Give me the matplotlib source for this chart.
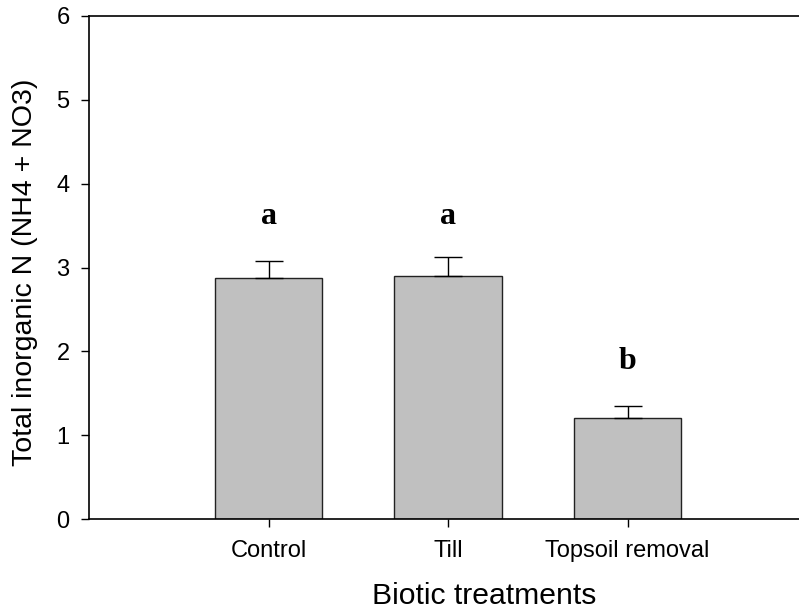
import matplotlib
matplotlib.use("Agg")
import matplotlib.pyplot as plt

categories = ["Control", "Till", "Topsoil removal"]
means = [2.88, 2.90, 1.21]
errors = [0.20, 0.23, 0.14]
letters = ["a", "a", "b"]
letter_y = [3.61, 3.61, 1.88]

plt.rcParams['font.family'] = ['Liberation Sans', 'DejaVu Sans']

fig = plt.figure(figsize=(7.99, 6.16), dpi=100)
ax = fig.add_axes([89/799, 97/616, 718/799, 503/616])

pos = [1, 2, 3]
ax.bar(pos, means, width=0.6, color="#c0c0c0", edgecolor="#222222", linewidth=1.0, zorder=2)
ax.errorbar(pos, means, yerr=[[0, 0, 0], errors], fmt="none", ecolor="black",
            elinewidth=1.0, capsize=10, capthick=1.0, zorder=3)
for x, t, y in zip(pos, letters, letter_y):
    ax.text(x, y, t, ha="center", va="center", fontsize=23, fontweight="bold",
            family=["Liberation Serif", "DejaVu Serif"])

ax.set_xlim(0, 4)
ax.set_ylim(0, 6)
ax.set_xticks(pos)
ax.set_xticklabels(categories)
ax.set_yticks(range(0, 7))
ax.tick_params(axis="both", direction="out", length=6, width=1.0, labelsize=17, pad=8)
ax.tick_params(axis="x", pad=9)
for s in ["left", "bottom", "top"]:
    ax.spines[s].set_linewidth(1.2)
ax.spines["right"].set_visible(False)

ax.set_ylabel("Total inorganic N (NH4 + NO3)", fontsize=20.5, va="center")
ax.yaxis.set_label_coords(-0.089, 0.491)
ax.set_xlabel("Biotic treatments", fontsize=21.7, va="center")
ax.xaxis.set_label_coords(0.551, -0.153)

fig.savefig("out.png", dpi=100)
